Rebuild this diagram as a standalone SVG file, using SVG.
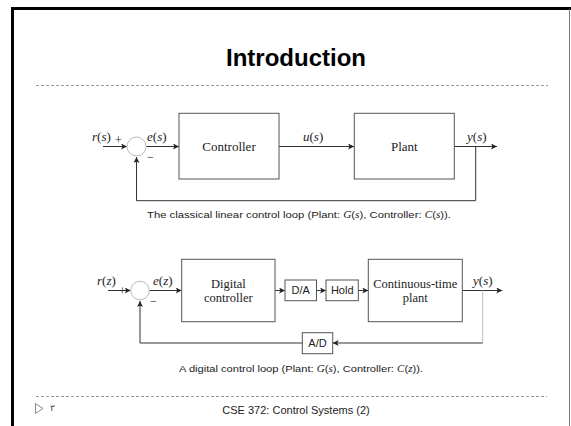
<svg xmlns="http://www.w3.org/2000/svg" width="571" height="426" viewBox="0 0 571 426">
<defs>
<marker id="ah" markerWidth="7" markerHeight="6" refX="6" refY="3" orient="auto" markerUnits="userSpaceOnUse">
<path d="M0,0 L6,3 L0,6 L1.5,3 z" fill="#222"/>
</marker>
<style>
.ln{stroke:#333;stroke-width:1;fill:none}
.lt{stroke:#bbb;stroke-width:1;fill:none}
.bx{stroke:#555;stroke-width:1;fill:#fff}
.sum{stroke:#bbb;stroke-width:1;fill:#fff}
.m{font-family:"Liberation Serif",serif;font-size:13px;fill:#222}
.bl{font-family:"Liberation Serif",serif;font-size:13px;fill:#222;text-anchor:middle}
.bl2{font-family:"Liberation Serif",serif;font-size:12.5px;fill:#222;text-anchor:middle}
.sl{font-family:"Liberation Sans",Arial,sans-serif;font-size:11px;fill:#222;text-anchor:middle}
.cap{font-family:"Liberation Sans",Arial,sans-serif;font-size:9.5px;fill:#222}
.it{font-family:"Liberation Serif",serif;font-style:italic}
.dash{stroke:#999;stroke-width:1;stroke-dasharray:3,2;fill:none}
</style>
</defs>
<rect width="571" height="426" fill="#fff"/>
<!-- frame -->
<line x1="11" y1="8.5" x2="571" y2="8.5" stroke="#000" stroke-width="3"/>
<line x1="12.5" y1="7" x2="12.5" y2="426" stroke="#000" stroke-width="3"/>
<line x1="569.5" y1="9" x2="569.5" y2="426" stroke="#777" stroke-width="1"/>
<!-- title -->
<text x="296" y="66" font-family="Liberation Sans,Arial,sans-serif" font-size="24" font-weight="bold" text-anchor="middle" fill="#000">Introduction</text>
<line class="dash" x1="36" y1="85.5" x2="548" y2="85.5"/>

<!-- diagram 1 -->
<g id="connectors1">
<line class="ln" x1="103" y1="146.5" x2="127" y2="146.5" marker-end="url(#ah)"/>
<line class="ln" x1="146" y1="146.5" x2="179" y2="146.5" marker-end="url(#ah)"/>
<line class="ln" x1="279" y1="146.5" x2="354" y2="146.5" marker-end="url(#ah)"/>
<line class="ln" x1="454" y1="146.5" x2="497" y2="146.5" marker-end="url(#ah)"/>
<polyline class="ln" points="475.7,146.5 475.7,200.7 136.5,200.7 136.5,157" marker-end="url(#ah)"/>
</g>
<g id="sum1">
<circle class="sum" cx="136.5" cy="146.5" r="9.5"/>
<text x="115" y="144" font-family="Liberation Serif,serif" font-size="12" fill="#222">+</text>
<text x="147" y="161" font-family="Liberation Serif,serif" font-size="12" fill="#222">−</text>
</g>
<g id="controller">
<rect class="bx" x="179" y="113.3" width="100" height="65.7"/>
<text class="bl" x="229" y="151">Controller</text>
</g>
<g id="plant">
<rect class="bx" x="354.3" y="113.3" width="100" height="65.7"/>
<text class="bl" x="404.3" y="151">Plant</text>
</g>
<g id="labels1">
<text class="m" x="92" y="141"><tspan class="it">r</tspan>(<tspan class="it">s</tspan>)</text>
<text class="m" x="147" y="141"><tspan class="it">e</tspan>(<tspan class="it">s</tspan>)</text>
<text class="m" x="303" y="141"><tspan class="it">u</tspan>(<tspan class="it">s</tspan>)</text>
<text class="m" x="467" y="141"><tspan class="it">y</tspan>(<tspan class="it">s</tspan>)</text>
</g>
<text class="cap" x="147" y="218" textLength="304" lengthAdjust="spacingAndGlyphs">The classical linear control loop (Plant: <tspan class="it">G</tspan>(<tspan class="it">s</tspan>), Controller: <tspan class="it">C</tspan>(<tspan class="it">s</tspan>)).</text>

<!-- diagram 2 -->
<g id="connectors2">
<line class="ln" x1="108" y1="290.5" x2="130.7" y2="290.5" marker-end="url(#ah)"/>
<line class="ln" x1="149.3" y1="290.5" x2="181.7" y2="290.5" marker-end="url(#ah)"/>
<line class="ln" x1="275" y1="290.5" x2="285" y2="290.5" marker-end="url(#ah)"/>
<line class="ln" x1="316.5" y1="290.5" x2="326" y2="290.5" marker-end="url(#ah)"/>
<line class="ln" x1="358.3" y1="290.5" x2="368.3" y2="290.5" marker-end="url(#ah)"/>
<line class="ln" x1="462.3" y1="290.5" x2="502.3" y2="290.5" marker-end="url(#ah)"/>
<line class="lt" x1="482.7" y1="290.5" x2="482.7" y2="343"/>
<line class="ln" x1="482.7" y1="343" x2="332.7" y2="343" marker-end="url(#ah)"/>
<polyline class="ln" points="302.3,343 140,343 140,301" marker-end="url(#ah)"/>
</g>
<g id="sum2">
<circle class="sum" cx="140" cy="290.5" r="9.3"/>
<text x="119" y="295" font-family="Liberation Serif,serif" font-size="12" fill="#222">+</text>
<text x="150" y="305" font-family="Liberation Serif,serif" font-size="12" fill="#222">−</text>
</g>
<g id="digital-controller">
<rect class="bx" x="181.7" y="259.3" width="93.3" height="62.4"/>
<text class="bl2" x="228.3" y="288">Digital</text>
<text class="bl2" x="228.3" y="302">controller</text>
</g>
<g id="da">
<rect class="bx" x="285" y="280" width="31.5" height="20.7"/>
<text class="sl" x="300.7" y="294.3">D/A</text>
</g>
<g id="hold">
<rect class="bx" x="326" y="280" width="32.3" height="20.7"/>
<text class="sl" x="342.2" y="294.3">Hold</text>
</g>
<g id="ct-plant">
<rect class="bx" x="368.3" y="259.3" width="94" height="62.4"/>
<text class="bl2" x="415.3" y="288">Continuous-time</text>
<text class="bl2" x="415.3" y="302">plant</text>
</g>
<g id="ad">
<rect class="bx" x="302.3" y="332.7" width="30.4" height="21"/>
<text class="sl" x="317.5" y="347">A/D</text>
</g>
<g id="labels2">
<text class="m" x="97" y="285"><tspan class="it">r</tspan>(<tspan class="it">z</tspan>)</text>
<text class="m" x="153" y="285"><tspan class="it">e</tspan>(<tspan class="it">z</tspan>)</text>
<text class="m" x="473" y="285"><tspan class="it">y</tspan>(<tspan class="it">s</tspan>)</text>
</g>
<text class="cap" x="179" y="372" textLength="244" lengthAdjust="spacingAndGlyphs">A digital control loop (Plant: <tspan class="it">G</tspan>(<tspan class="it">s</tspan>), Controller: <tspan class="it">C</tspan>(<tspan class="it">z</tspan>)).</text>

<!-- footer -->
<line class="dash" x1="36" y1="396.5" x2="547" y2="396.5"/>
<polygon points="35.5,403.5 43,408.5 35.5,413.5" fill="none" stroke="#888" stroke-width="1"/>
<text x="50" y="411" font-family="DejaVu Sans,sans-serif" font-size="9" fill="#444">٣</text>
<text x="296" y="414" font-family="Liberation Sans,Arial,sans-serif" font-size="11" text-anchor="middle" fill="#222">CSE 372: Control Systems (2)</text>
</svg>
